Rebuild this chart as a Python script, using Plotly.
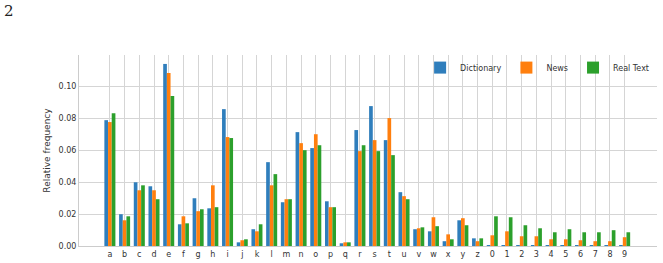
import plotly.graph_objects as go

categories = list("abcdefghijklmnopqrstuvwxyz") + [str(i) for i in range(10)]

dictionary = [0.0788, 0.0199, 0.0399, 0.0374, 0.1140, 0.0136, 0.0299, 0.0236, 0.0857, 0.0023,
              0.0105, 0.0525, 0.0274, 0.0713, 0.0613, 0.0280, 0.0017, 0.0726, 0.0876, 0.0663,
              0.0337, 0.0105, 0.0092, 0.0030, 0.0161, 0.0048,
              0.0002, 0.0002, 0.0002, 0.0002, 0.0002, 0.0002, 0.0002, 0.0002, 0.0002, 0.0002]
news = [0.0776, 0.0161, 0.0349, 0.0349, 0.1083, 0.0186, 0.0218, 0.0380, 0.0682, 0.0036,
        0.0092, 0.0380, 0.0293, 0.0644, 0.0700, 0.0243, 0.0023, 0.0594, 0.0663, 0.0801,
        0.0312, 0.0111, 0.0180, 0.0073, 0.0174, 0.0030,
        0.0067, 0.0092, 0.0061, 0.0061, 0.0042, 0.0042, 0.0036, 0.0030, 0.0030, 0.0055]
real_text = [0.0832, 0.0186, 0.0380, 0.0293, 0.0939, 0.0142, 0.0230, 0.0243, 0.0676, 0.0042,
             0.0136, 0.0450, 0.0293, 0.0600, 0.0631, 0.0243, 0.0023, 0.0631, 0.0594, 0.0569,
             0.0293, 0.0117, 0.0124, 0.0042, 0.0130, 0.0048,
             0.0186, 0.0180, 0.0130, 0.0111, 0.0086, 0.0105, 0.0086, 0.0086, 0.0099, 0.0086]

series = [("Dictionary", dictionary, "#2f7ebc"),
          ("News", news, "#ff7f0e"),
          ("Real Text", real_text, "#2ca02c")]

fig = go.Figure()
for name, vals, color in series:
    fig.add_trace(go.Bar(x=categories, y=vals, name=name, marker_color=color,
                         marker_line_width=0))

font = "DejaVu Sans"
fig.update_layout(
    width=663, height=263,
    margin=dict(l=79, r=6, t=55, b=17, pad=0, autoexpand=False),
    paper_bgcolor="white", plot_bgcolor="white",
    barmode="group", bargap=0.25, bargroupgap=0,
    font=dict(family=font, size=8, color="#333333"),
    showlegend=True,
    legend=dict(orientation="h", x=0.995, xanchor="right", y=1.01, yanchor="top",
                bgcolor="rgba(0,0,0,0)", font=dict(size=8, color="#333333"),
                itemwidth=30, tracegroupgap=0),
    xaxis=dict(type="category", range=[-2.1, 37.2], showgrid=True, gridcolor="#d5d5d5",
               gridwidth=1, showline=True, linecolor="#cccccc", linewidth=1,
               ticks="", tickfont=dict(size=8, color="#333333"), zeroline=False,
               automargin=False),
    yaxis=dict(range=[0, 0.1196], dtick=0.02, tickformat=".2f", showgrid=True,
               gridcolor="#d5d5d5", gridwidth=1, showline=True, linecolor="#cccccc",
               linewidth=1, ticks="", zeroline=False, automargin=False,
               tickfont=dict(size=8, color="#333333"),
               title=dict(text="Relative frequency", font=dict(size=9, color="#333333"),
                          standoff=6)),
    annotations=[dict(text="2", xref="paper", yref="paper", x=-0.1325, y=1.29,
                      xanchor="left", yanchor="top", showarrow=False,
                      font=dict(family="DejaVu Serif", size=15, color="#222222")),
                 ],
)

fig.write_html("out.html")
